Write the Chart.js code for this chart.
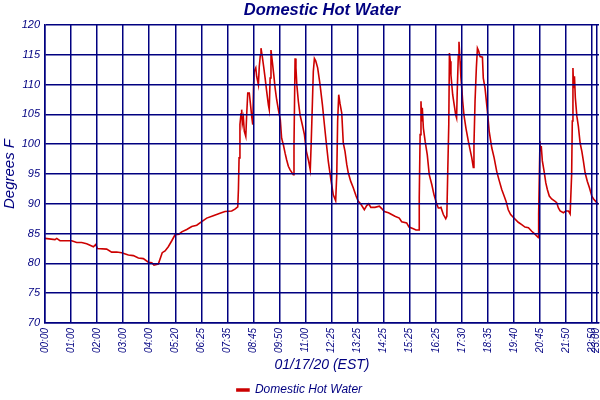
<!DOCTYPE html>
<html>
<head>
<meta charset="utf-8">
<script src="https://cdn.jsdelivr.net/npm/chart.js@4.4.0/dist/chart.umd.min.js"></script>
<style>
html,body{margin:0;padding:0;background:#ffffff;}
#wrap{width:600px;height:400px;}
</style>
</head>
<body>
<div id="wrap"><canvas id="c" width="600" height="400"></canvas></div>
<script>
// Sample number along the logged series (12 samples between labelled ticks)
const sampleIdx = [
  0,4.6,5.4,6.9,12.3,14.6,16.9,19.2,22.3,23.4,24.1,28.4,30.7,33.0,35.3,38.4,40.7,43.0,45.3,47.6,
  49.2,50.2,52.2,54.0,55.3,56.8,58.4,59.9,61.7,63.0,65.3,67.6,69.9,72.2,74.5,77.5,80.6,82.9,86.0,87.5,88.8,
  89.1,89.4,89.8,90.3,90.6,90.9,91.4,91.8,92.5,92.9,
  93.4,94.1,94.6,95.2,95.7,96.1,96.4,97.1,97.5,98.3,
  98.7,99.2,99.5,100.1,100.8,101.4,102.1,102.9,103.3,103.7,
  104.1,104.7,105.4,106.0,106.7,107.5,108.4,109.0,109.8,110.6,
  111.3,112.1,112.9,114.4,114.7,115.2,115.6,116.0,116.7,117.5,
  118.5,119.5,120.4,121.3,122.2,122.6,123.2,123.6,124.1,124.7,
  125.6,126.7,127.8,128.7,129.5,130.5,131.8,132.8,133.9,134.4,
  134.8,135.3,135.9,
  136.7,137.4,138.2,139.0,139.7,140.8,142.0,143.3,144.3,145.4,
  147.1,148.2,149.1,150.1,152.0,154.0,155.1,156.3,158.2,159.7,
  161.2,163.2,164.3,166.6,167.7,169.7,170.9,172.3,172.4,172.8,
  173.2,173.5,173.8,174.3,175.1,176.1,177.0,178.2,179.2,180.5,
  181.2,
  181.7,182.4,183.5,184.6,185.1,185.5,186.0,186.3,186.7,187.0,
  187.8,188.5,189.2,189.6,189.9,190.4,190.7,191.2,191.6,192.0,
  192.4,193.0,193.9,195.0,195.8,196.6,197.3,197.6,198.1,198.7,
  199.2,199.8,200.4,201.5,201.9,202.7,203.8,204.6,205.8,206.9,
  208.1,209.3,
  210.4,211.5,212.4,213.4,214.5,215.8,218.0,219.6,221.1,222.7,
  224.2,225.7,227.3,227.4,228.0,228.3,228.6,229.1,229.9,230.7,
  231.4,232.3,233.4,235.0,235.7,236.5,237.3,238.8,239.9,241.1,
  241.9,242.3,242.6,242.9,243.2,243.5,243.9,244.3,245.0,245.7,
  246.5,247.3,248.0,248.8,249.8,250.8,251.9,252.9,254.2,254.7
];
// Domestic hot water temperature, degrees F
const tempF = [
  84.2,84.0,84.2,83.8,83.8,83.5,83.5,83.3,82.8,83.2,82.5,82.4,81.9,81.9,81.8,81.4,81.3,80.9,80.8,80.2,
  80.1,79.7,79.9,81.8,82.1,82.8,83.8,84.8,84.9,85.3,85.7,86.2,86.4,87.0,87.6,88.0,88.4,88.7,88.8,89.1,89.5,
  92.4,97.7,103.3,105.1,105.8,103.4,104.4,102.2,101.3,104.9,
  108.6,108.6,106.9,104.7,103.3,110,112.2,112.8,111.4,110,
  113,115,116.1,114.7,112.8,111.1,108.9,106.6,105.8,111.1,
  115.8,113.9,111.6,109.4,107.5,105.8,104.1,101.0,99.9,98.5,
  97.4,96.3,95.7,94.9,99.9,114.4,112.8,110,107.2,104.9,
  103.3,101.6,98.8,97.4,95.7,99.9,107.2,112.2,114.4,114.0,
  112.8,110,106.6,103.3,100.5,97.1,93.8,91.5,90.5,94.9,
  103.8,108.3,106.8,
  105.2,100.2,98.8,96.6,95.2,93.8,92.7,91.3,90.4,90.0,
  89.0,89.7,90.0,89.4,89.4,89.6,89.2,88.7,88.5,88.2,
  87.9,87.6,87.0,86.8,86.1,85.8,85.6,85.6,91.0,101.6,
  107.2,103.8,106.1,102.7,100.5,98.2,94.9,93.2,91.5,89.9,
  89.3,
  89.3,89.4,88.2,87.5,87.9,94.9,103.3,115.3,113.9,111.6,
  108.3,106.6,104.9,104.4,108.9,115,117.2,113.9,111.1,109.4,
  107.2,104.9,102.7,100.5,99.1,97.7,96.1,99.9,107.2,112.8,
  116.1,115.6,114.7,114.6,111.1,109.4,105.5,102.2,99.4,97.7,
  95.4,93.8,
  92.4,91.3,90.4,89.0,88.2,87.7,86.9,86.5,86.1,86.0,
  85.4,84.9,84.3,88.2,100.5,98.8,99.7,97.2,95.5,93.5,
  92.4,91.3,90.8,90.4,90.2,89.3,88.8,88.5,88.8,88.8,
  88.3,88.3,94.9,103.9,112.8,109.4,111.4,107.8,104.7,103.0,
  100.2,98.8,97.2,95.2,93.8,92.7,91.3,90.7,90.2,89.9
];
// Labelled ticks on the time axis
const tickIdx = [0,12,24,36,48,60,72,84,96,108,120,132,144,156,168,180,192,204,216,228,240,252,254];
const tickLabels = ['00:00','01:00','02:00','03:00','04:00','05:20','06:25','07:35','08:45','09:50','11:00',
  '12:25','13:25','14:25','15:25','16:25','17:30','18:35','19:40','20:45','21:50','22:50','23:00'];
const yTicks = [70,75,80,85,90,95,100,105,110,115,120];

const NAVY = '#000080';
const RED = '#cc0000';
const FONT = "'Liberation Sans', Arial, sans-serif";

const points = sampleIdx.map((x, i) => ({x: x, y: tempF[i]}));

new Chart(document.getElementById('c'), {
  type: 'line',
  data: {
    datasets: [{
      label: 'Domestic Hot Water',
      data: points,
      borderColor: RED,
      backgroundColor: RED,
      borderWidth: 1.6,
      pointRadius: 0,
      tension: 0,
      fill: false
    }]
  },
  options: {
    responsive: false,
    animation: false,
    devicePixelRatio: 1,
    layout: {padding: {left: 0, right: 1, top: 0, bottom: -6}},
    plugins: {
      title: {
        display: true,
        fullSize: false,
        text: 'Domestic Hot Water',
        color: NAVY,
        font: {family: FONT, size: 16.5, weight: 'bold', style: 'italic'},
        padding: {top: 1, bottom: 4.2}
      },
      legend: {
        display: true,
        position: 'bottom',
        labels: {
          color: NAVY,
          boxWidth: 12,
          boxHeight: 2,
          padding: 10,
          font: {family: FONT, size: 12, style: 'italic'}
        }
      },
      tooltip: {enabled: false}
    },
    scales: {
      x: {
        type: 'linear',
        min: 0,
        max: 255.2,
        afterBuildTicks: (s) => { s.ticks = tickIdx.map(v => ({value: v})); },
        afterFit: (s) => { s.height = 51; s.paddingLeft = 0; s.paddingRight = 0; },
        ticks: {
          autoSkip: false,
          maxRotation: 90,
          minRotation: 90,
          padding: 5,
          color: NAVY,
          font: {family: FONT, size: 10, style: 'italic'},
          callback: (v) => { const k = tickIdx.indexOf(v); return k >= 0 ? tickLabels[k] : ''; }
        },
        grid: {color: NAVY, lineWidth: 1.5, drawTicks: false, z: 1},
        border: {display: true, color: NAVY, width: 1.5, z: 1},
        title: {
          display: true,
          text: '01/17/20 (EST)',
          color: NAVY,
          font: {family: FONT, size: 14, style: 'italic'},
          padding: {top: 0, bottom: 0}
        }
      },
      y: {
        type: 'linear',
        min: 70,
        max: 120,
        afterBuildTicks: (s) => { s.ticks = yTicks.map(v => ({value: v})); },
        afterFit: (s) => { s.width = 45; s.paddingTop = 0; s.paddingBottom = 0; },
        ticks: {
          padding: 5,
          color: NAVY,
          font: {family: FONT, size: 11, style: 'italic'}
        },
        grid: {color: NAVY, lineWidth: 1.5, drawTicks: false, z: 1},
        border: {display: true, color: NAVY, width: 1.5, z: 1},
        title: {
          display: true,
          text: 'Degrees F',
          color: NAVY,
          font: {family: FONT, size: 15, style: 'italic'},
          padding: {top: 1, bottom: 0}
        }
      }
    }
  }
});
</script>
</body>
</html>
